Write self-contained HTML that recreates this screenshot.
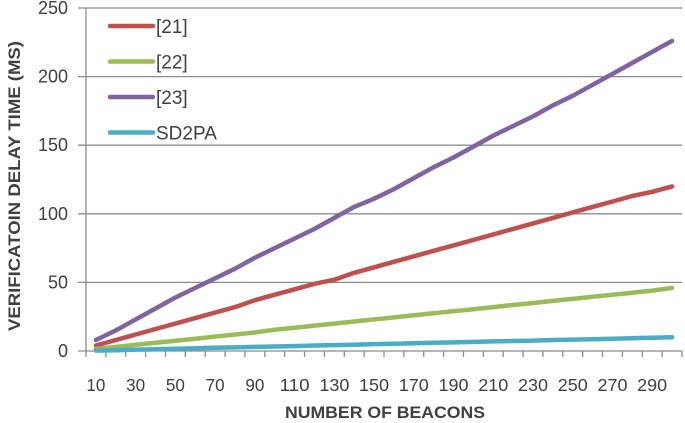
<!DOCTYPE html>
<html><head><meta charset="utf-8"><style>
body{margin:0;background:#fff;}
svg{display:block;font-family:"Liberation Sans",sans-serif;}
</style></head><body>
<svg id="chart" width="685" height="423"></svg>
<script>
const categories=[10,20,30,40,50,60,70,80,90,100,110,120,130,140,150,160,170,180,190,200,210,220,230,240,250,260,270,280,290,300];
const s21=[4,8,12,16,20,24,28,32,37,41,45,49,52,57,61,65,69,73,77,81,85,89,93,97,101,105,109,113,116,120];
const s22=[1.5,3,4.5,6,7.5,9,10.5,12,13.5,15.5,17,18.5,20,21.5,23,24.5,26,27.5,29,30.5,32,33.5,35,36.5,38,39.5,41,42.5,44,46];
const s23=[8,15,23,31,39,46,53,60,68,75,82,89,97,105,111,118,126,134,141,149,157,164,171,179,186,194,202,210,218,226];
const sd2pa=[0.3,0.6,1,1.3,1.6,2,2.3,2.6,3,3.3,3.6,4,4.3,4.6,5,5.3,5.6,6,6.3,6.6,7,7.3,7.6,8,8.3,8.6,9,9.3,9.6,10];
const yTicks=[0,50,100,150,200,250];
const xLabels=[10,30,50,70,90,110,130,150,170,190,210,230,250,270,290];
const seriesNames=["[21]","[22]","[23]","SD2PA"];
const colors=["#C0504D","#9BBB59","#8064A2","#4BACC6"];
const seriesData=[s21,s22,s23,sd2pa];

const L=86,R=682,T=8,B=351,ymax=250;
const band=(R-L)/categories.length;
const xScale=i=>L+band*(i+0.5);
const yScale=v=>B-(v/ymax)*(B-T);
const svg=document.getElementById('chart');
const NS='http://www.w3.org/2000/svg';
function mk(tag,attrs,parent){const e=document.createElementNS(NS,tag);for(const k in attrs)e.setAttribute(k,attrs[k]);(parent||svg).appendChild(e);return e;}

yTicks.forEach(v=>{
  const y=yScale(v);
  const g=mk('line',{x1:78,x2:R,y1:y,y2:y,stroke:'#8c8c8c','stroke-width':1.3});
  
  
  const t=mk('text',{x:68,y:y+6,'text-anchor':'end','font-size':18,fill:'#404040'});
  t.textContent=v;
  
  
});
const ax=mk('line',{x1:L,x2:L,y1:T,y2:B,stroke:'#8c8c8c','stroke-width':1.3});


for(let i=0;i<=categories.length;i++){
  const x=L+band*i;
  const tk=mk('line',{x1:x,x2:x,y1:B,y2:B+6,stroke:'#8c8c8c','stroke-width':1.3});
  
  
}
xLabels.forEach(v=>{
  const i=categories.indexOf(v);
  const t=mk('text',{x:xScale(i),y:391,'text-anchor':'middle','font-size':17.5,fill:'#404040',textLength:(v>=100?30:19),lengthAdjust:'spacingAndGlyphs'});
  t.textContent=v;
  
  
});
seriesData.forEach((d,si)=>{
  const pts=d.map((v,i)=>xScale(i).toFixed(1)+','+yScale(v).toFixed(1)).join(' ');
  const p=mk('polyline',{points:pts,fill:'none',stroke:colors[si],'stroke-width':4.5,'stroke-linecap':'round','stroke-linejoin':'round'});
  
  
  const ly=26+si*35.5;
  const ll=mk('line',{x1:110,x2:153,y1:ly,y2:ly,stroke:colors[si],'stroke-width':4.5,'stroke-linecap':'round'});
  
  
  const lt=mk('text',{x:156,y:ly+7,'font-size':19,fill:'#404040'});
  lt.textContent=seriesNames[si];
  
  
});
const xt=mk('text',{x:385,y:418,'text-anchor':'middle','font-size':17,'font-weight':'bold',fill:'#404040',textLength:200,lengthAdjust:'spacingAndGlyphs'});
xt.textContent='NUMBER OF BEACONS';


const yt=mk('text',{x:0,y:0,'text-anchor':'middle','font-size':17,'font-weight':'bold',fill:'#404040',textLength:290,lengthAdjust:'spacingAndGlyphs',transform:'translate(20,186) rotate(-90)'});
yt.textContent='VERIFICATOIN DELAY TIME (MS)';


</script>
</body></html>
